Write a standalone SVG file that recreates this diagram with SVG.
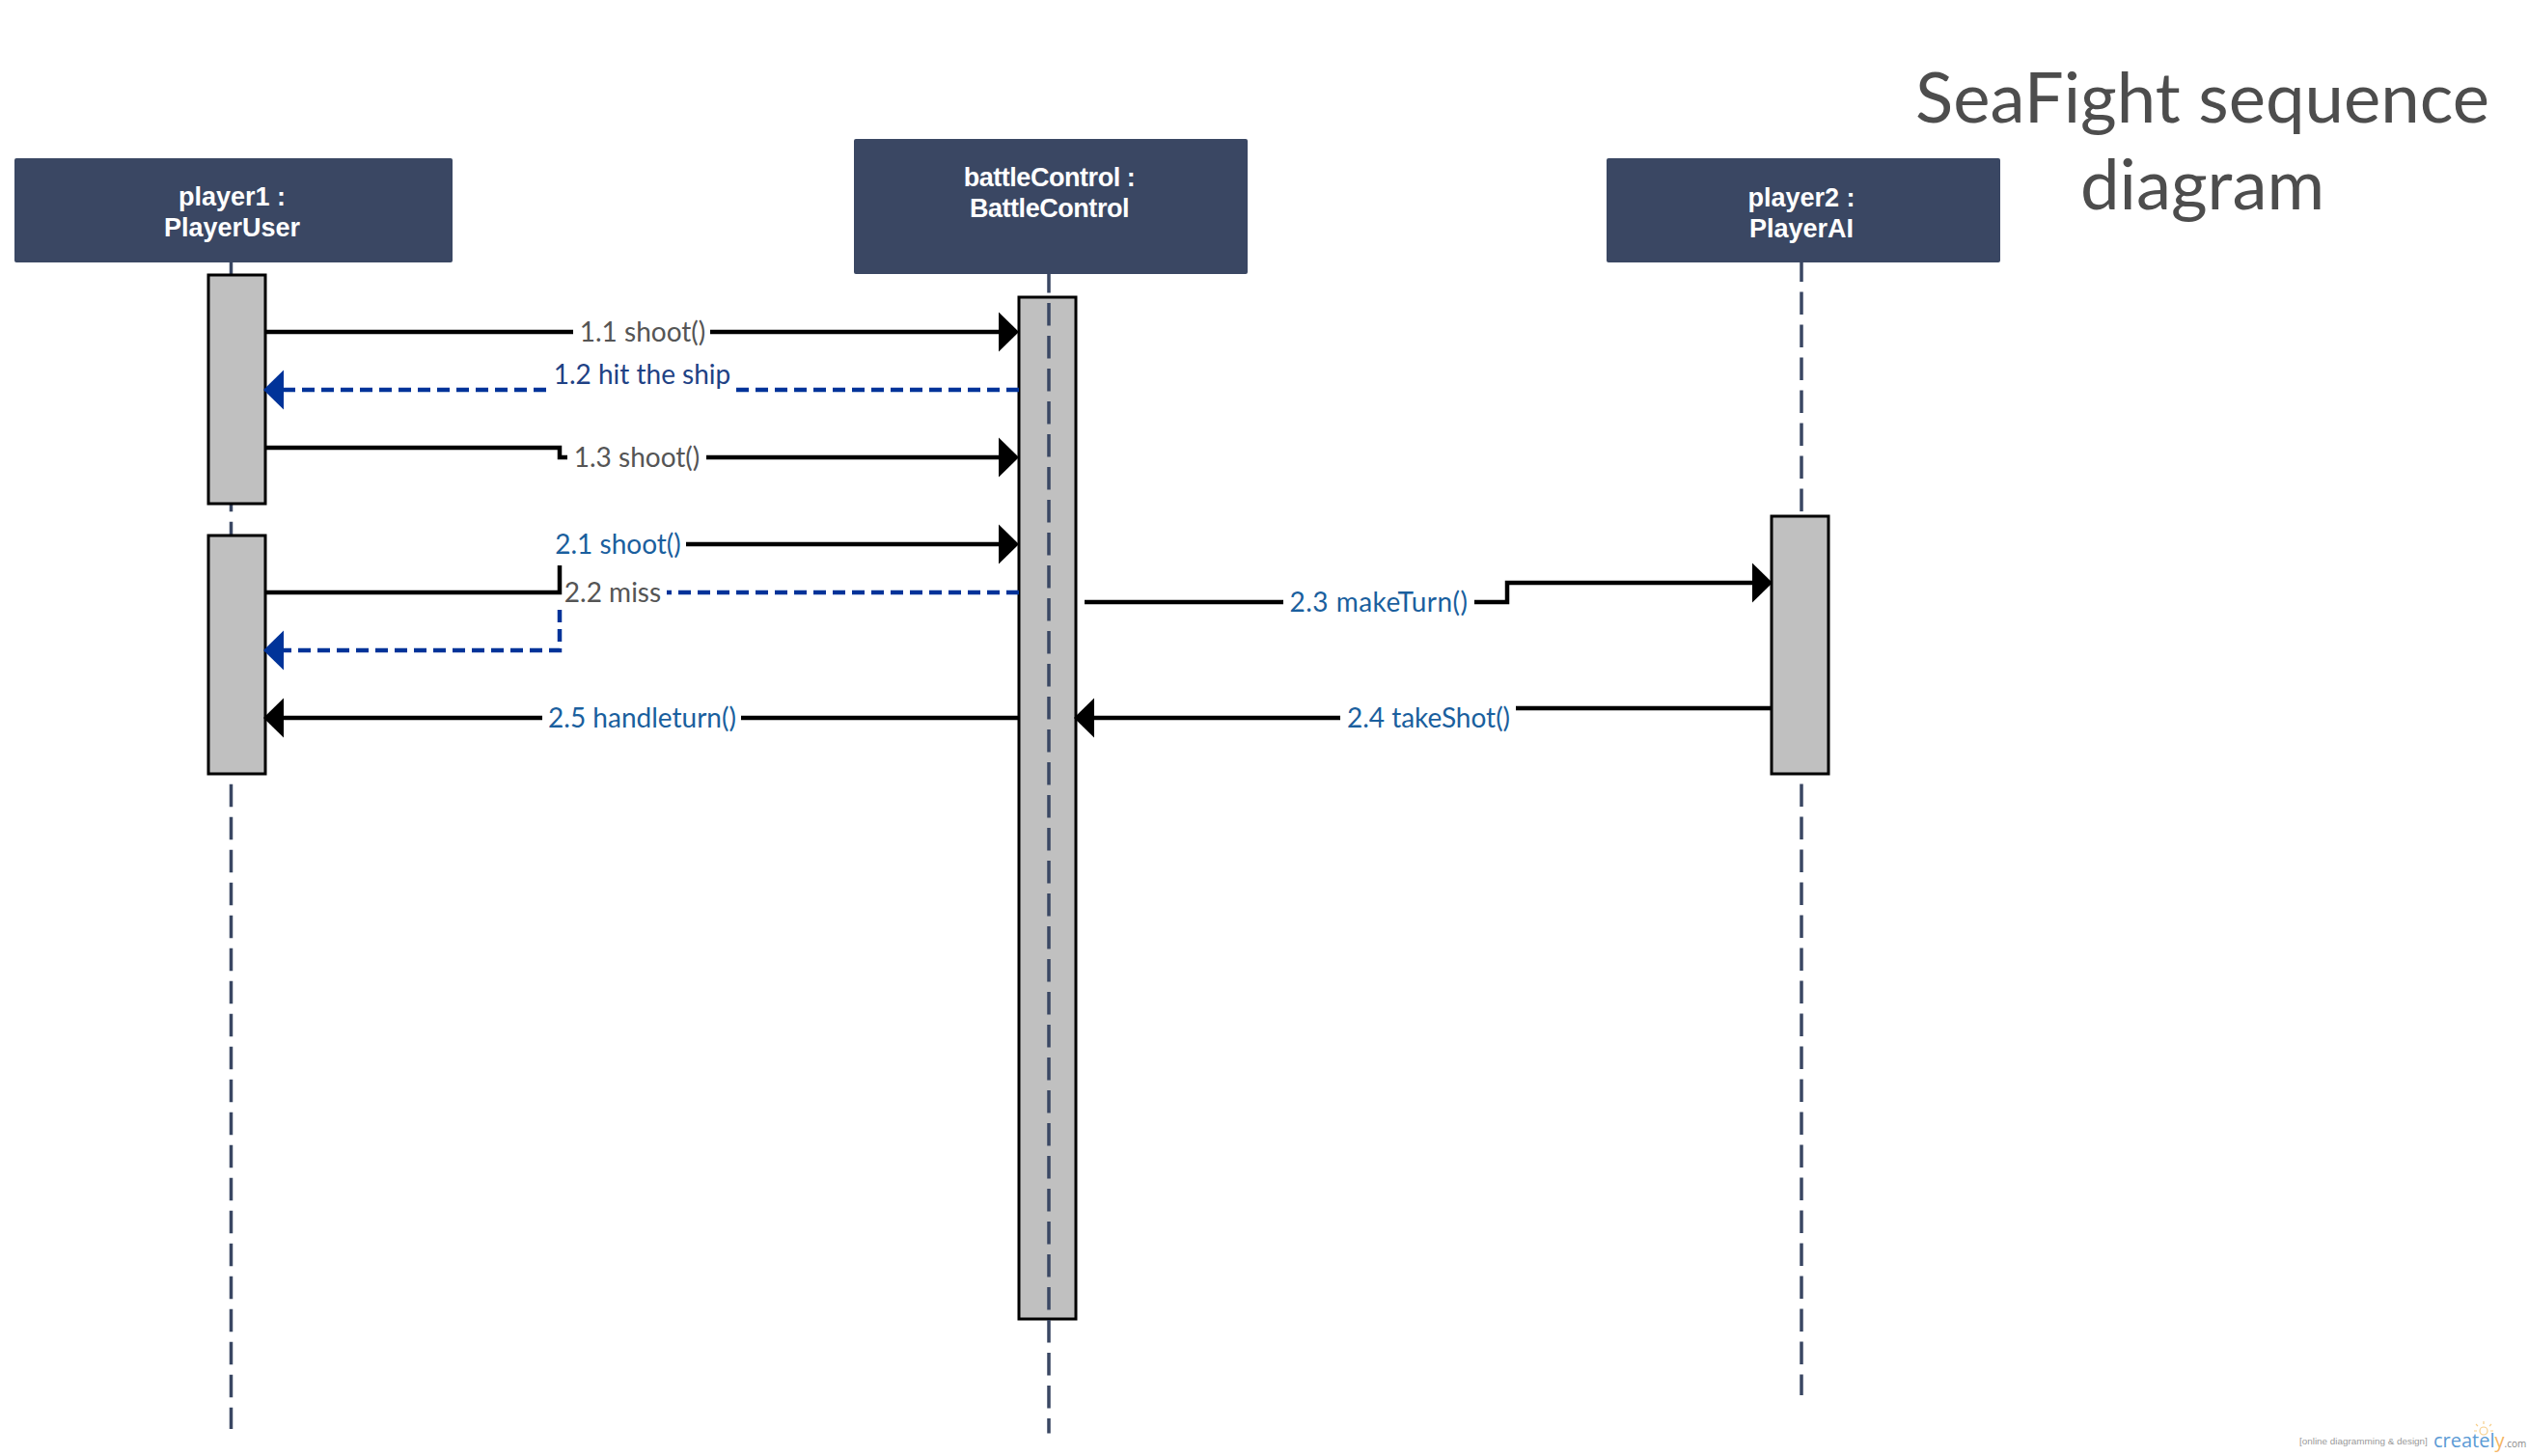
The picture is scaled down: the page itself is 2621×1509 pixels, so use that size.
<svg xmlns="http://www.w3.org/2000/svg" width="2621" height="1509" viewBox="0 0 2621 1509">
<style>
.box{fill:#3a4763;rx:2px}
.hd{font:bold 27px "Liberation Sans",Arial,sans-serif;fill:#fff;text-anchor:middle}
.tight{letter-spacing:-.45px}
.act{fill:#c0c0c0;stroke:#000;stroke-width:3}
.life{fill:none;stroke:#3a4763;stroke-width:3.5;stroke-dasharray:23.5 10.5}
.msg{fill:none;stroke:#000;stroke-width:4.5}
.ret{fill:none;stroke:#003399;stroke-width:4.5;stroke-dasharray:13 7}
.lb{font:28px Lato,"Open Sans",sans-serif;text-anchor:middle}
.g{fill:#555}.b{fill:#1a5f9e}.n{fill:#1f4285}
.wide{letter-spacing:.5px}
.title{font:72.5px Lato,"Open Sans",sans-serif;fill:#4d4d4d;text-anchor:middle}
</style>
<defs>
<marker id="hb" markerUnits="userSpaceOnUse" markerWidth="22" markerHeight="42" refX="0" refY="21" orient="auto" viewBox="0 0 22 42"><path d="M0 0.5L21 21L0 41.5z" fill="#000"/></marker>
<marker id="hr" markerUnits="userSpaceOnUse" markerWidth="22" markerHeight="42" refX="0" refY="21" orient="auto" viewBox="0 0 22 42"><path d="M0 0.5L21 21L0 41.5z" fill="#003399"/></marker>
</defs>
<rect width="2621" height="1509" fill="#fff"/>
<g id="title"><text class="title" x="2282.5" y="127">SeaFight sequence</text><text class="title" x="2282.5" y="217">diagram</text></g>
<g id="player1">
<path class="life" d="M239.5 268.7V1481"/>
<rect class="act" x="216" y="285" width="59" height="237"/>
<rect class="act" x="216" y="555" width="59" height="247"/>
<rect class="box" x="15" y="164" width="454" height="108"/>
<text class="hd" x="240.5" y="213">player1 :</text><text class="hd" x="240.5" y="245">PlayerUser</text>
</g>
<g id="battleControl">
<rect class="act" x="1056" y="308" width="59" height="1059"/>
<path class="life" d="M1087 280V1485.5"/>
<rect class="box" x="885" y="144" width="408" height="140"/>
<text class="hd tight" x="1087.5" y="193">battleControl :</text><text class="hd tight" x="1087.5" y="225">BattleControl</text>
</g>
<g id="player2">
<path class="life" d="M1867 268.5V1446"/>
<rect class="act" x="1836" y="535" width="59" height="267"/>
<rect class="box" x="1665" y="164" width="408" height="108"/>
<text class="hd" x="1867" y="213.5">player2 :</text><text class="hd" x="1867" y="245.5">PlayerAI</text>
</g>
<g id="connectors">
<path class="msg" d="M275 344H594M736 344H1035" marker-end="url(#hb)"/>
<text class="lb g" x="666" y="353.5">1.1 shoot()</text>
<path class="ret" d="M1056 404H763M566 404H294" marker-end="url(#hr)"/>
<text class="lb n" x="665.5" y="397.5">1.2 hit the ship</text>
<path class="msg" d="M275 464H580V474H588M732 474H1035" marker-end="url(#hb)"/>
<text class="lb g" x="660" y="483.5">1.3 shoot()</text>
<path class="msg" d="M275 614H580V586M711 564H1035" marker-end="url(#hb)"/>
<text class="lb b" x="640.5" y="573.5">2.1 shoot()</text>
<path class="ret" d="M1056 614H691M580 632V674H294" marker-end="url(#hr)"/>
<text class="lb g" x="635" y="623.5">2.2 miss</text>
<path class="msg" d="M1124 624H1330M1528 624H1562V604H1816" marker-end="url(#hb)"/>
<text class="lb b wide" x="1429" y="633.5">2.3 makeTurn()</text>
<path class="msg" d="M1836 734H1571M1389 744H1134" marker-end="url(#hb)"/>
<text class="lb b" x="1480.5" y="753.5">2.4 takeShot()</text>
<path class="msg" d="M1056 744H768M562 744H294" marker-end="url(#hb)"/>
<text class="lb b" x="665.5" y="753.5">2.5 handleturn()</text>
</g>
<g id="watermark">
<text x="2383" y="1497" font-family="Liberation Sans,Arial,sans-serif" font-size="9.9" fill="#999">[online diagramming &amp; design]</text>
<text x="2522" y="1500" font-family="Open Sans,sans-serif" font-size="20" fill="#5b9bd5">createl<tspan fill="#f5b563">y</tspan><tspan font-size="10" fill="#888">.com</tspan></text>
<path d="M2574 1473v3M2566 1476l2 2M2582 1476l-2 2M2564 1483h3M2584 1483h-3" stroke="#f7cf8a" stroke-width="1.2" fill="none"/>
<circle cx="2574" cy="1483" r="4" fill="none" stroke="#f7cf8a" stroke-width="1.2"/>
</g>
</svg>
